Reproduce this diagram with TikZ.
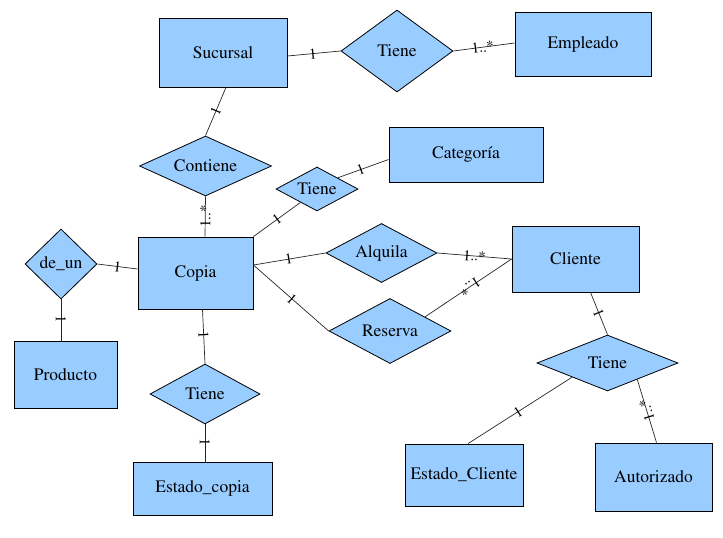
\documentclass[tikz,border=0pt]{standalone}
\usepackage[T1]{fontenc}
\renewcommand{\rmdefault}{ptm}
\usetikzlibrary{shapes.geometric,calc}
\definecolor{erblue}{RGB}{153,204,255}
\begin{document}
\begin{tikzpicture}[x=1pt,y=-1pt,
  ent/.style={rectangle, draw=black, fill=erblue, line width=0.8pt, inner sep=0pt, font=\rmfamily\fontsize{17.5}{20}\selectfont},
  rel/.style={diamond, draw=black, fill=erblue, line width=0.8pt, inner sep=0pt, font=\rmfamily\fontsize{17.5}{20}\selectfont},
  conn/.style={draw=black!85, line width=0.7pt},
  card/.style={font=\rmfamily\fontsize{15}{16}\selectfont, inner sep=0pt}]
\useasboundingbox (0,0) rectangle (723,538);
% entities
\node[ent, minimum width=128, minimum height=69] (suc) at (223,52.5) {Sucursal};
\node[ent, minimum width=136, minimum height=64] (emp) at (583,44) {Empleado};
\node[ent, minimum width=154, minimum height=55] (cat) at (466,154.5) {Categor\'{\i}a};
\node[ent, minimum width=115, minimum height=72] (copia) at (195.5,273) {Copia};
\node[ent, minimum width=127, minimum height=66] (cli) at (575.5,259) {Cliente};
\node[ent, minimum width=103, minimum height=67] (prod) at (65.5,374.5) {Producto};
\node[ent, minimum width=139, minimum height=53] (ec) at (202.5,488.5) {Estado\_copia};
\node[ent, minimum width=118, minimum height=62] (ecli) at (464,475) {Estado\_Cliente};
\node[ent, minimum width=117, minimum height=68] (aut) at (653.5,477) {Autorizado};
% relationships
\node[rel, shape aspect=1.4, minimum width=112, minimum height=82] (tsuc) at (397,51) {Tiene};
\node[rel, shape aspect=2.2, minimum width=132, minimum height=60] (cont) at (205.5,166) {Contiene};
\node[rel, shape aspect=1.9, minimum width=82, minimum height=44] (tcat) at (317,189) {Tiene};
\node[rel, shape aspect=1.9, minimum width=111, minimum height=59] (alq) at (381.5,253) {Alquila};
\node[rel, shape aspect=1.9, minimum width=122, minimum height=65] (res) at (390,331) {Reserva};
\node[rel, shape aspect=1, minimum width=72, minimum height=70] (deun) at (61,264) {de\_un};
\node[rel, shape aspect=1.8, minimum width=110, minimum height=60] (tec) at (205,394) {Tiene};
\node[rel, shape aspect=2.5, minimum width=141, minimum height=56] (tcli) at (607.5,363) {Tiene};
% connection points
\coordinate (ca) at ([yshift=8pt]copia.east);
\coordinate (tcatA) at ($(tcat.west)!0.6!(tcat.south)$);
\coordinate (tcatB) at ($(tcat.north)!0.5!(tcat.east)$);
\coordinate (resB) at ($(res.north)!0.57!(res.east)$);
\coordinate (tcliL) at ($(tcli.south)!0.5!(tcli.west)$);
\coordinate (tcliR) at ($(tcli.south)!0.42!(tcli.east)$);
% connectors
\draw[conn] ([yshift=-3.5pt]suc.east) -- (tsuc.west) node[card, sloped, pos=0.48] {1};
\draw[conn] (tsuc.east) -- ([yshift=1pt]emp.west) node[card, sloped, pos=0.48] {1..*};
\draw[conn] ([xshift=3pt]suc.south) -- (cont.north) node[card, sloped, pos=0.5] {1};
\draw[conn] ([xshift=9.5pt]copia.north) -- (cont.south) node[card, rotate=90, pos=0.5] {1..*};
\draw[conn] (copia.north east) -- (tcatA) node[card, sloped, pos=0.5] {1};
\draw[conn] (tcatB) -- ([yshift=-5pt]cat.west) node[card, sloped, pos=0.45] {1};
\draw[conn] (ca) -- (alq.west) node[card, sloped, pos=0.49] {1};
\draw[conn] (alq.east) -- (cli.west) node[card, sloped, pos=0.5] {1..*};
\draw[conn] (ca) -- (res.west) node[card, sloped, pos=0.51] {1};
\draw[conn] (cli.west) -- (resB) node[card, rotate=213, pos=0.48] {1..*};
\draw[conn] ([yshift=4pt]copia.west) -- (deun.east) node[card, sloped, pos=0.5] {1};
\draw[conn] (deun.south) -- (deun.south |- prod.north) node[card, sloped, pos=0.48] {1};
\draw[conn] ([xshift=7pt]copia.south) -- (tec.north) node[card, sloped, pos=0.47] {1};
\draw[conn] (tec.south) -- (tec.south |- ec.north) node[card, sloped, pos=0.47] {1};
\draw[conn] ([xshift=15pt]cli.south) -- (tcli.north) node[card, sloped, pos=0.49] {1};
\draw[conn] (tcliL) -- ([xshift=4pt]ecli.north) node[card, sloped, pos=0.52] {1};
\draw[conn] ([xshift=3pt]aut.north) -- (tcliR) node[card, rotate=107, pos=0.51] {1..*};
\end{tikzpicture}
\end{document}
